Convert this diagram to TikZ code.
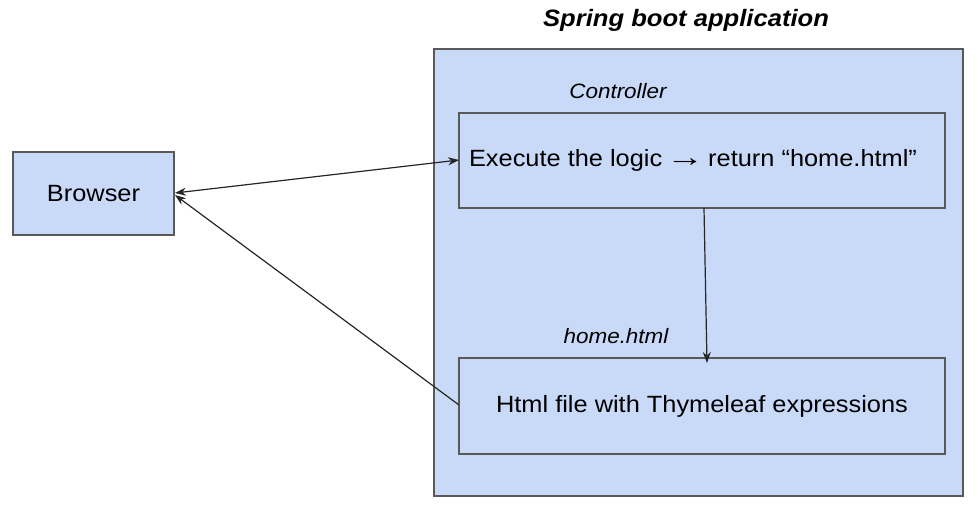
\documentclass[tikz,border=0pt]{standalone}
\usepackage{fontspec}
\usepackage{graphicx}
\setmainfont{Liberation Sans}[FakeStretch=1.08]
\usetikzlibrary{arrows.meta}
\definecolor{boxblue}{HTML}{C9DAF8}
\definecolor{edge}{HTML}{595959}
\tikzset{
  box/.style={draw=edge, line width=1.2pt, fill=boxblue, inner sep=0pt},
  boxtext/.style={font=\fontsize{23.5}{27}\selectfont},
  conn/.style={draw=black!85, line width=1.2pt, -{Stealth[length=11pt,width=8pt]}},
  lbl/.style={font=\fontsize{20.8}{24}\selectfont\itshape, anchor=base}
}
\begin{document}
\begin{tikzpicture}[x=1pt,y=-1pt]
\useasboundingbox (0,0) rectangle (978,510);
\node[box, minimum width=529pt, minimum height=447pt] (app) at (698.5,272.5) {};
\node[font=\fontsize{23.7}{27}\selectfont\bfseries\itshape, anchor=base] (title) at (686,27) {Spring boot application};
\node[box, boxtext, minimum width=161pt, minimum height=83pt] (browser) at (93.5,193.5) {Browser};
\node[box, boxtext, minimum width=486pt, minimum height=95pt] (ctrl) at (702,160.5) {Execute the logic\,\scalebox{1.5}[1.15]{→}\,return “home.html”\kern18pt\relax};
\node[box, boxtext, minimum width=486pt, minimum height=96pt] (html) at (702,406) {Html file with Thymeleaf expressions};
\node[lbl] (ctrllbl) at (618,99) {Controller};
\node[lbl] (htmllbl) at (616,344) {home.html};
\coordinate (bA) at (175,193);
\coordinate (bB) at (175,195);
\coordinate (cL) at (459,160);
\coordinate (hL) at (459,405);
\coordinate (cB) at (704,208);
\coordinate (hT) at (707,363);
\draw[conn, {Stealth[length=11pt,width=8pt]}-{Stealth[length=11pt,width=8pt]}] (bA) -- (cL);
\draw[conn] (hL) -- (bB);
\draw[conn] (cB) -- (hT);
\end{tikzpicture}
\end{document}
